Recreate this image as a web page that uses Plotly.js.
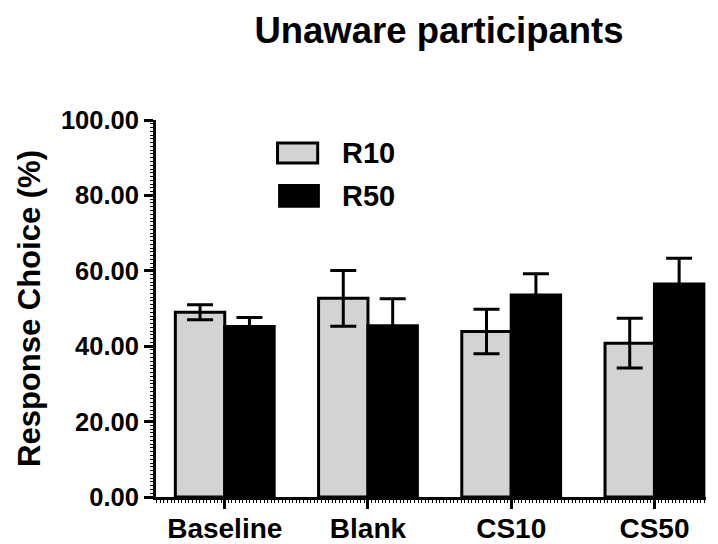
<!DOCTYPE html>
<html>
<head>
<meta charset="utf-8">
<script src="https://cdn.plot.ly/plotly-3.0.1.min.js"></script>
<style>html,body{margin:0;padding:0;background:#fff;}#chart{width:718px;height:544px;}</style>
</head>
<body>
<div id="chart"></div>
<script>
var categories = ["Baseline", "Blank", "CS10", "CS50"];
var seriesNames = ["R10", "R50"];
var r10Values = [49.0, 52.7, 43.9, 40.8];
var r10Errors = [2.0, 7.4, 5.9, 6.6];
var r50Values = [45.2, 45.4, 53.6, 56.5];
var r50Errors = [2.4, 7.2, 5.6, 6.8];
var yTickValues = [0, 20, 40, 60, 80, 100];

var xPos = categories.map(function(c, i){ return i; });
var FONT = "Liberation Sans, Arial, Helvetica, sans-serif";

var traces = [
  {
    type: "bar", name: seriesNames[0], x: xPos, y: r10Values,
    marker: {color: "#d3d3d3", line: {color: "#000", width: 3}},
    error_y: {type: "data", array: r10Errors, visible: true, color: "#000", thickness: 3, width: 13},
    showlegend: false
  },
  {
    type: "bar", name: seriesNames[1], x: xPos, y: r50Values,
    marker: {color: "#000", line: {color: "#000", width: 3}},
    error_y: {type: "data", array: r50Errors, visible: true, color: "#000", thickness: 3, width: 13},
    showlegend: false
  }
];

var layout = {
  width: 718, height: 544,
  margin: {l: 156, r: 12, t: 120, b: 47},
  paper_bgcolor: "#fff", plot_bgcolor: "#fff",
  barmode: "group", bargap: 0.31, bargroupgap: 0,
  showlegend: false,
  font: {family: FONT, color: "#000"},
  title: {
    text: "Unaware participants",
    font: {family: FONT, size: 36.5, weight: "bold", color: "#000"},
    x: 439/718, xanchor: "center", xref: "container",
    y: 1 - 30/544, yanchor: "middle", yref: "container"
  },
  xaxis: {
    type: "linear", range: [-0.48, 3.36],
    tickmode: "array", tickvals: xPos, ticktext: categories,
    ticks: "outside", ticklen: 9, tickwidth: 3, tickcolor: "#000",
    ticklabelstandoff: -5,
    tickfont: {family: FONT, size: 28, weight: "bold", color: "#000"},
    showline: true, linecolor: "#000", linewidth: 3,
    showgrid: false, zeroline: false, fixedrange: true, automargin: false,
    minor: {dtick: 0.025, ticks: "outside", ticklen: 3, tickwidth: 1, tickcolor: "#000", showgrid: false}
  },
  yaxis: {
    range: [0, 100],
    tickmode: "array", tickvals: yTickValues,
    ticktext: yTickValues.map(function(v){ return v.toFixed(2); }),
    ticks: "outside", ticklen: 9, tickwidth: 3, tickcolor: "#000",
    tickfont: {family: FONT, size: 25.5, weight: "bold", color: "#000"},
    showline: true, linecolor: "#000", linewidth: 3,
    showgrid: false, zeroline: false, fixedrange: true, automargin: false,
    minor: {dtick: 1, ticks: "outside", ticklen: 3, tickwidth: 1, tickcolor: "#000", showgrid: false},
    title: {text: "Response Choice (%)", font: {family: FONT, size: 31, weight: "bold", color: "#000"}, standoff: 12}
  },
  shapes: [
    {type: "rect", xref: "paper", yref: "paper", x0: 0.221, x1: 0.294, y0: 0.886, y1: 0.939,
     fillcolor: "#d3d3d3", line: {color: "#000", width: 3}},
    {type: "rect", xref: "paper", yref: "paper", x0: 0.222, x1: 0.298, y0: 0.767, y1: 0.830,
     fillcolor: "#000", line: {color: "#000", width: 0}}
  ],
  annotations: [
    {xref: "paper", yref: "paper", x: 0.335, y: 0.912, xanchor: "left", yanchor: "middle",
     text: seriesNames[0], showarrow: false, font: {family: FONT, size: 29, weight: "bold", color: "#000"}},
    {xref: "paper", yref: "paper", x: 0.335, y: 0.798, xanchor: "left", yanchor: "middle",
     text: seriesNames[1], showarrow: false, font: {family: FONT, size: 29, weight: "bold", color: "#000"}}
  ]
};

Plotly.newPlot("chart", traces, layout, {displayModeBar: false, staticPlot: true});
</script>
</body>
</html>
